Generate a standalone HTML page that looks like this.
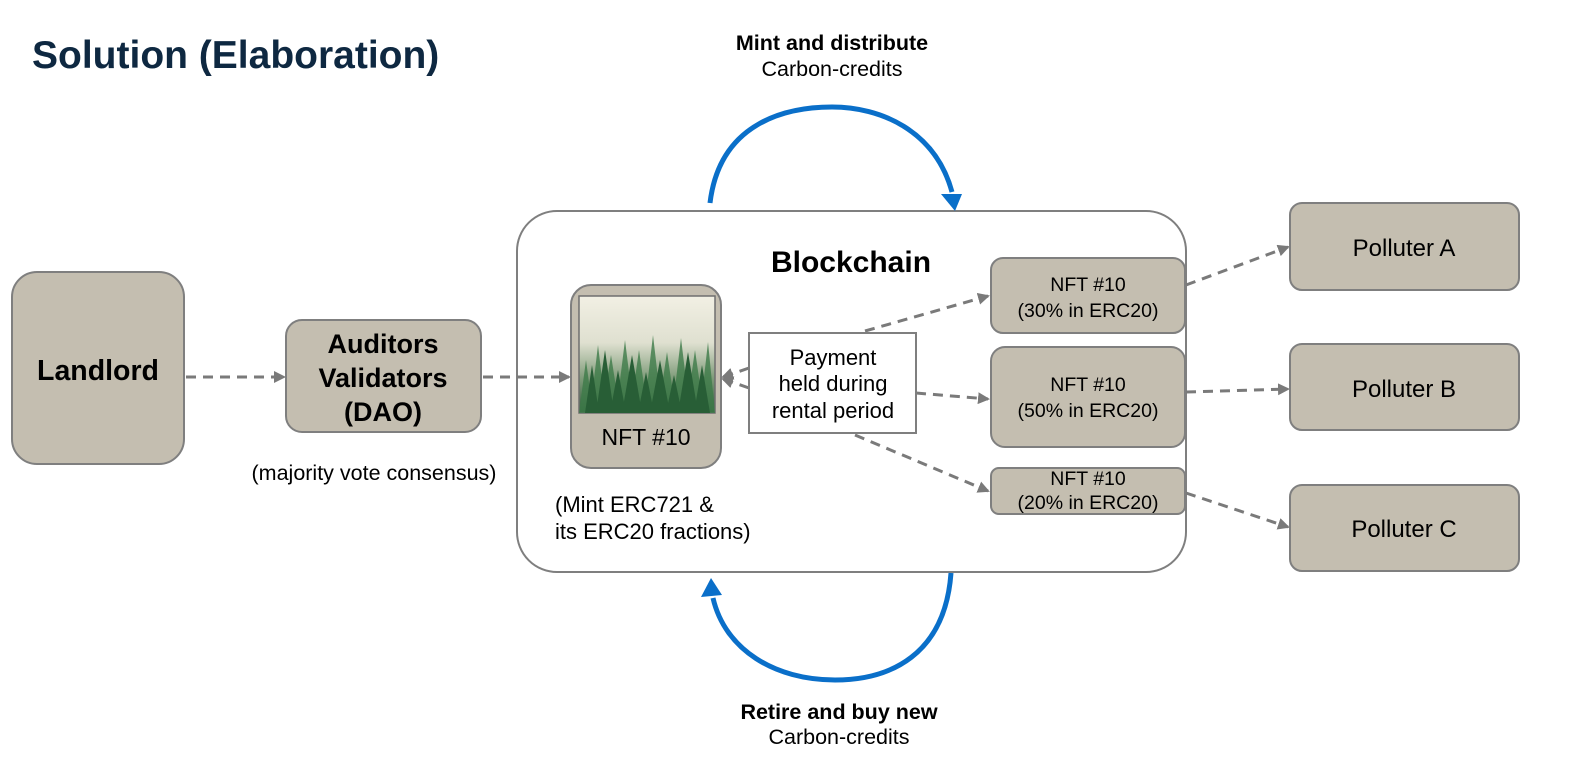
<!DOCTYPE html>
<html><head><meta charset="utf-8"><style>body{margin:0;background:#fff}svg{display:block}</style></head><body>
<svg width="1575" height="757" viewBox="0 0 1575 757" xmlns="http://www.w3.org/2000/svg" font-family="Liberation Sans, Arial, sans-serif">
<defs>
<marker id="ga" markerWidth="12" markerHeight="12" refX="10" refY="6" orient="auto" markerUnits="userSpaceOnUse"><path d="M0,0 L12,6 L0,12 z" fill="#7a7a7a"/></marker>
<linearGradient id="fog" x1="0" y1="0" x2="0" y2="1"><stop offset="0" stop-color="#f2f0e4"/><stop offset="0.4" stop-color="#dfe0d0"/><stop offset="0.7" stop-color="#7f9c7a"/><stop offset="1" stop-color="#2f5a3a"/></linearGradient>
</defs>
<text x="32" y="68" font-size="39" font-weight="bold" fill="#0e2841">Solution (Elaboration)</text>

<rect x="12" y="272" width="172" height="192" rx="25" fill="#c4beb0" stroke="#7f7f7f" stroke-width="2"/>
<text x="98" y="380" font-size="28.5" font-weight="bold" text-anchor="middle">Landlord</text>

<rect x="286" y="320" width="195" height="112" rx="16" fill="#c4beb0" stroke="#7f7f7f" stroke-width="2"/>
<g font-size="27" font-weight="bold" text-anchor="middle"><text x="383" y="353">Auditors</text><text x="383" y="387">Validators</text><text x="383" y="421">(DAO)</text></g>
<text x="374" y="480" font-size="21.5" text-anchor="middle">(majority vote consensus)</text>

<rect x="517" y="211" width="669" height="361" rx="40" fill="#fff" stroke="#7f7f7f" stroke-width="2"/>
<text x="851" y="272" font-size="30" font-weight="bold" text-anchor="middle">Blockchain</text>

<rect x="571" y="285" width="150" height="183" rx="20" fill="#c4beb0" stroke="#7f7f7f" stroke-width="2"/>
<rect x="579" y="296" width="136" height="117" fill="url(#fog)" stroke="#6f6f6f" stroke-width="1.5"/>
<g fill="#3d7a48" opacity="0.8">
<path d="M579,413 L586,360 L593,413z M590,413 L598,345 L606,413z M602,413 L611,355 L620,413z M616,413 L625,340 L634,413z M630,413 L639,350 L648,413z M644,413 L653,335 L662,413z M658,413 L667,352 L676,413z M672,413 L681,338 L690,413z M686,413 L695,350 L704,413z M700,413 L708,342 L715,413z"/>
</g>
<g fill="#285e36">
<path d="M585,413 L592,365 L599,413z M596,413 L605,350 L614,413z M610,413 L618,370 L626,413z M622,413 L632,355 L642,413z M638,413 L646,372 L654,413z M650,413 L660,360 L670,413z M666,413 L674,375 L682,413z M678,413 L688,352 L698,413z M694,413 L702,365 L710,413z"/>
</g>
<text x="646" y="445" font-size="23" text-anchor="middle">NFT #10</text>
<text x="555" y="512" font-size="22">(Mint ERC721 &amp;</text>
<text x="555" y="539" font-size="22">its ERC20 fractions)</text>

<g stroke="#7a7a7a" stroke-width="3" stroke-dasharray="10,7" fill="none" marker-end="url(#ga)">
<line x1="186" y1="377" x2="284" y2="377"/>
<line x1="483" y1="377" x2="569" y2="377"/>
<line x1="749" y1="368" x2="723" y2="377"/>
<line x1="749" y1="388" x2="723" y2="379"/>
<line x1="865" y1="331" x2="988" y2="296"/>
<line x1="916" y1="393" x2="988" y2="399"/>
<line x1="855" y1="435" x2="988" y2="491"/>
<line x1="1186" y1="285" x2="1288" y2="247"/>
<line x1="1186" y1="392" x2="1288" y2="389"/>
<line x1="1186" y1="493" x2="1288" y2="527"/>
</g>

<rect x="749" y="333" width="167" height="100" fill="#fff" stroke="#7f7f7f" stroke-width="2"/>
<g font-size="22" text-anchor="middle"><text x="833" y="365">Payment</text><text x="833" y="391">held during</text><text x="833" y="418">rental period</text></g>

<g fill="#c4beb0" stroke="#7f7f7f" stroke-width="2">
<rect x="991" y="258" width="194" height="75" rx="12"/>
<rect x="991" y="347" width="194" height="100" rx="14"/>
<rect x="991" y="468" width="194" height="46" rx="8"/>
<rect x="1290" y="203" width="229" height="87" rx="12"/>
<rect x="1290" y="344" width="229" height="86" rx="12"/>
<rect x="1290" y="485" width="229" height="86" rx="12"/>
</g>
<g font-size="19.5" text-anchor="middle">
<text x="1088" y="291">NFT #10</text><text x="1088" y="317">(30% in ERC20)</text>
<text x="1088" y="391">NFT #10</text><text x="1088" y="417">(50% in ERC20)</text>
<text x="1088" y="485">NFT #10</text><text x="1088" y="509">(20% in ERC20)</text>
</g>
<g font-size="24" text-anchor="middle">
<text x="1404" y="256">Polluter A</text><text x="1404" y="397">Polluter B</text><text x="1404" y="537">Polluter C</text>
</g>

<g stroke="#0a6fc9" stroke-width="5" fill="none">
<path d="M710,203 C720,120 790,107 832,107 C880,107 935,130 952,192"/>
<path d="M951,573 C945,655 890,680 835,680 C775,680 725,650 713,598"/>
</g>
<path d="M941,194 L962,194 L955,211z" fill="#0a6fc9"/>
<path d="M701,597 L722,595 L711,578z" fill="#0a6fc9"/>

<g text-anchor="middle" font-size="21.5">
<text x="832" y="50" font-weight="bold">Mint and distribute</text><text x="832" y="76">Carbon-credits</text>
<text x="839" y="719" font-weight="bold">Retire and buy new</text><text x="839" y="744">Carbon-credits</text>
</g>
</svg>
</body></html>
